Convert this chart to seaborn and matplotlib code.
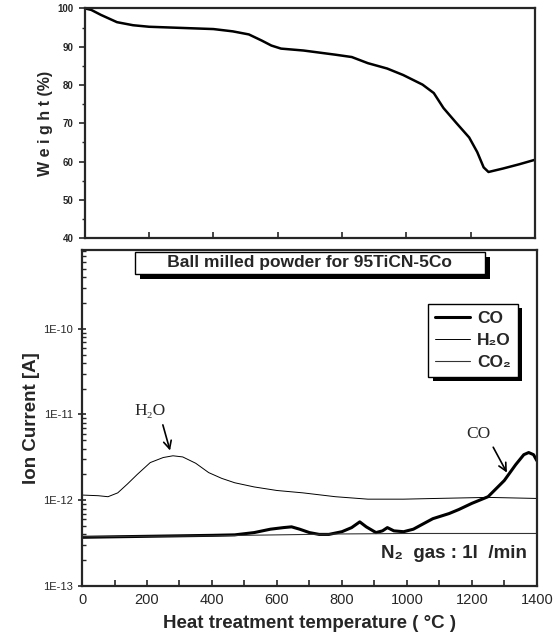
import numpy as np
import pandas as pd
import seaborn as sns
import matplotlib.pyplot as plt
import matplotlib.patheffects as pe
from matplotlib.ticker import MultipleLocator, LogLocator, NullFormatter

# TG curve (weight loss)
tg_temp = [0, 20, 50, 100, 150, 200, 300, 400, 460, 510, 550, 580, 610, 680, 780, 830,
           880, 940, 990, 1050, 1085, 1115, 1155, 1195, 1220, 1240, 1255, 1300, 1350, 1400]
tg_weight = [100, 99.6, 98.3, 96.4, 95.6, 95.2, 94.9, 94.6, 94.0, 93.2, 91.6, 90.3, 89.5, 89.0, 87.9, 87.3,
             85.7, 84.3, 82.6, 80.1, 77.9, 74.0, 70.1, 66.3, 62.5, 58.5, 57.3, 58.2, 59.3, 60.5]

# mass spec ion currents
co_temp = [0, 100, 200, 300, 400, 470, 530, 580, 620, 645, 670, 700, 730, 760, 800, 830, 855, 875,
           905, 925, 940, 960, 990, 1020, 1050, 1080, 1130, 1160, 1200, 1250, 1300, 1335, 1360, 1375, 1390, 1400]
co_current = [3.7e-13, 3.75e-13, 3.8e-13, 3.85e-13, 3.9e-13, 3.95e-13, 4.2e-13, 4.6e-13, 4.8e-13, 4.9e-13,
              4.6e-13, 4.2e-13, 4.0e-13, 4.0e-13, 4.3e-13, 4.8e-13, 5.6e-13, 4.9e-13, 4.2e-13, 4.4e-13,
              4.8e-13, 4.4e-13, 4.3e-13, 4.6e-13, 5.3e-13, 6.1e-13, 7.0e-13, 7.8e-13, 9.2e-13, 1.1e-12,
              1.7e-12, 2.6e-12, 3.4e-12, 3.6e-12, 3.4e-12, 2.9e-12]

h2o_temp = [0, 50, 80, 110, 140, 170, 210, 250, 280, 310, 350, 390, 430, 470, 530, 600, 680, 780,
            880, 990, 1090, 1250, 1400]
h2o_current = [1.15e-12, 1.13e-12, 1.1e-12, 1.22e-12, 1.55e-12, 2.0e-12, 2.75e-12, 3.15e-12, 3.3e-12,
               3.2e-12, 2.7e-12, 2.1e-12, 1.8e-12, 1.6e-12, 1.43e-12, 1.3e-12, 1.22e-12, 1.1e-12,
               1.03e-12, 1.03e-12, 1.05e-12, 1.08e-12, 1.05e-12]

co2_temp = [0, 200, 400, 600, 800, 1000, 1200, 1400]
co2_current = [3.75e-13, 3.8e-13, 3.85e-13, 3.95e-13, 4.05e-13, 4.1e-13, 4.1e-13, 4.1e-13]

sns.set_style("ticks")
plt.rcParams['font.family'] = ['Liberation Sans', 'DejaVu Sans']
plt.rcParams['axes.linewidth'] = 1.6

fig = plt.figure(figsize=(5.58, 6.44), dpi=100)
ax1 = fig.add_axes([0.152, 0.630, 0.807, 0.357])
ax2 = fig.add_axes([0.147, 0.090, 0.815, 0.522])

# top panel: TG
tg = pd.DataFrame({'temp': tg_temp, 'weight': tg_weight})
sns.lineplot(data=tg, x='temp', y='weight', ax=ax1, color='black', linewidth=1.8)
ax1.set_xlim(0, 1400)
ax1.set_ylim(40, 100)
ax1.set_xticks([200, 400, 600, 800, 1000, 1200])
ax1.set_xticklabels([])
ax1.yaxis.set_major_locator(MultipleLocator(10))
ax1.yaxis.set_minor_locator(MultipleLocator(5))
ax1.tick_params(axis='x', direction='in', length=4, width=1.2)
ax1.tick_params(axis='y', which='major', direction='out', length=4, width=1.2, labelsize=7, pad=4)
ax1.tick_params(axis='y', which='minor', direction='out', length=2.5, width=1.0)
for lab in ax1.get_yticklabels():
    lab.set_fontweight('bold')
ax1.set_xlabel('')
ax1.set_ylabel('W e i g h t (%)', fontsize=11.5, fontweight='bold', labelpad=3)

# bottom panel: ion currents
co = pd.DataFrame({'temp': co_temp, 'current': co_current})
h2o = pd.DataFrame({'temp': h2o_temp, 'current': h2o_current})
co2 = pd.DataFrame({'temp': co2_temp, 'current': co2_current})
sns.lineplot(data=co, x='temp', y='current', ax=ax2, color='black', linewidth=2.2, label='CO')
sns.lineplot(data=h2o, x='temp', y='current', ax=ax2, color='black', linewidth=0.7, label='H\u2082O')
sns.lineplot(data=co2, x='temp', y='current', ax=ax2, color='#333333', linewidth=0.8, label='CO\u2082')
ax2.set_yscale('log')
ax2.set_xlim(0, 1400)
ax2.set_ylim(1e-13, 8.3e-10)
ax2.set_xticks(range(0, 1401, 200))
ax2.xaxis.set_minor_locator(MultipleLocator(100))
ax2.set_yticks([1e-13, 1e-12, 1e-11, 1e-10])
ax2.set_yticklabels(['1E-13', '1E-12', '1E-11', '1E-10'])
ax2.yaxis.set_minor_locator(LogLocator(base=10, subs=np.arange(2, 10)))
ax2.yaxis.set_minor_formatter(NullFormatter())
ax2.tick_params(axis='x', which='both', direction='in', length=4, width=1.2, labelsize=10.5, pad=5)
ax2.tick_params(axis='y', which='major', direction='inout', length=6, width=1.2, labelsize=8)
ax2.tick_params(axis='y', which='minor', direction='in', length=3, width=1.0)
ax2.set_xlabel('Heat treatment temperature ( \u00b0C )', fontsize=13.5, fontweight='bold', labelpad=6)
ax2.set_ylabel('Ion Current [A]', fontsize=13.5, fontweight='bold', labelpad=2)

leg = ax2.legend(loc='upper right', bbox_to_anchor=(0.958, 0.839), fontsize=12.5, frameon=True,
                 fancybox=False, edgecolor='black', framealpha=1, handlelength=2.0,
                 handletextpad=0.4, borderpad=0.4, labelspacing=0.4, borderaxespad=0)
for t in leg.get_texts():
    t.set_fontweight('bold')
leg.get_frame().set_linewidth(1.0)
leg.get_frame().set_path_effects([pe.withSimplePatchShadow(offset=(3, -3), shadow_rgbFace='black', alpha=1)])

title = ax2.text(0.501, 0.962, '      Ball milled powder for 95TiCN-5Co      ', transform=ax2.transAxes,
                 ha='center', va='center', fontsize=12.5, fontweight='bold',
                 bbox=dict(boxstyle='square,pad=0.2', facecolor='white', edgecolor='black', linewidth=1.0))
title.get_bbox_patch().set_path_effects([pe.withSimplePatchShadow(offset=(4, -4), shadow_rgbFace='black', alpha=1)])

ax2.annotate('H\u2082O', xy=(271, 3.8e-12), xytext=(210, 1.1e-11), ha='center', va='center',
             fontsize=12.5, family=['Liberation Serif', 'DejaVu Serif'],
             arrowprops=dict(arrowstyle='->', color='black', linewidth=1.2, shrinkA=2, shrinkB=0,
                             mutation_scale=14, relpos=(0.85, 0)))
ax2.annotate('CO', xy=(1308, 2.1e-12), xytext=(1219, 6.0e-12), ha='center', va='center',
             fontsize=12.5, family=['Liberation Serif', 'DejaVu Serif'],
             arrowprops=dict(arrowstyle='->', color='black', linewidth=1.2, shrinkA=2, shrinkB=0,
                             mutation_scale=14, relpos=(1.0, 0)))
ax2.text(1370, 2.4e-13, 'N\u2082  gas : 1l  /min', ha='right', va='center', fontsize=13.5, fontweight='bold')

plt.savefig('out.png', dpi=100)
